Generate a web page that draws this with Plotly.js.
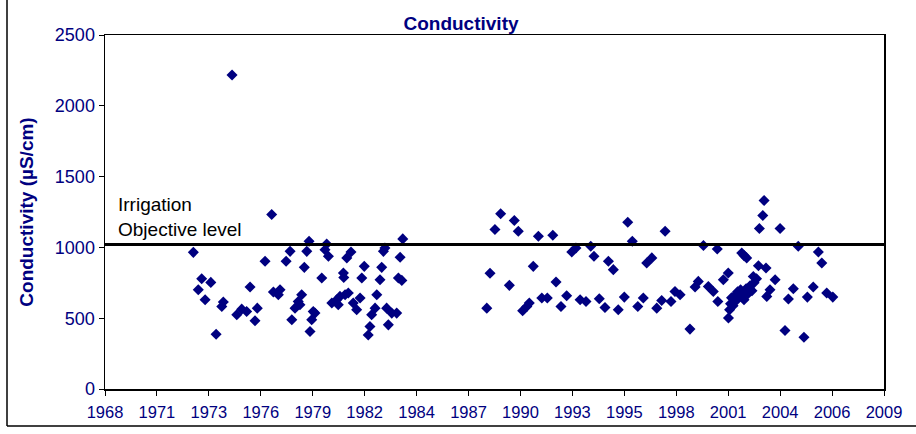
<!DOCTYPE html>
<html>
<head>
<meta charset="utf-8">
<script src="https://cdn.plot.ly/plotly-3.0.1.min.js"></script>
<style>html,body{margin:0;padding:0;background:#fff;}#chart{width:916px;height:434px;}</style>
</head>
<body>
<div id="chart"></div>
<script>
// Sampling dates (decimal years) and conductivity values (µS/cm)
const years = [
  1973.10,1973.36,1973.54,1973.72,1974.02,1974.30,1974.60,1974.68,1975.14,1975.39,
  1975.65,1975.91,1976.09,1976.35,1976.47,1976.88,1977.23,1977.32,1977.58,1977.67,
  1977.99,1978.20,1978.29,1978.46,1978.63,1978.72,1978.81,1978.95,1979.08,1979.20,
  1979.34,1979.25,1979.42,1979.51,1979.87,1980.04,1980.13,1980.22,1980.40,1980.66,
  1980.74,1980.83,1981.10,1981.27,1981.01,1981.03,1981.19,1981.41,1981.53,1981.71,
  1981.89,1981.98,1982.11,1982.32,1982.41,1982.50,1982.68,1982.77,1982.94,1983.03,
  1983.12,1983.20,1983.29,1983.56,1983.82,1983.38,1983.91,1984.09,1984.00,1984.14,
  1988.57,1988.74,1989.00,1989.30,1989.76,1990.02,1990.23,1990.46,1990.68,1990.81,
  1991.02,1991.29,1991.47,1991.76,1992.05,1992.22,1992.48,1992.78,1993.05,1993.27,
  1993.49,1993.80,1994.05,1994.22,1994.50,1994.80,1994.98,1995.24,1995.50,1995.82,
  1996.00,1996.24,1996.53,1996.82,1997.00,1997.27,1997.53,1997.79,1997.97,1998.28,
  1998.49,1998.76,1999.28,1999.55,1999.72,1999.99,2000.25,2000.51,2000.75,2000.72,
  2001.04,2001.30,2001.31,2001.37,2001.42,2001.47,2001.55,2001.63,2001.71,2001.79,
  2001.87,2001.95,2002.03,2002.13,2002.24,2002.34,2002.45,2002.55,2002.66,2002.62,
  2002.79,2002.01,2002.27,2002.13,2002.89,2003.29,2002.94,2003.12,2003.19,2004.03,
  2003.33,2003.50,2003.77,2004.29,2004.47,2004.73,2004.99,2005.29,2005.47,2005.78,
  2006.05,2006.23,2006.49,2006.81
];
const conductivity = [
  965,701,779,630,753,387,583,614,2217,524,
  564,547,720,482,571,902,1232,685,666,701,
  902,972,489,571,618,595,666,859,972,1043,
  489,406,547,536,784,984,1024,937,607,630,
  595,654,666,678,819,788,926,968,607,560,
  642,784,866,382,441,524,571,666,772,859,
  972,996,571,536,536,453,784,767,930,1060,
  571,817,1126,1237,732,1190,1114,552,583,607,
  866,1079,642,642,1086,756,583,659,968,996,
  630,618,1008,937,637,576,902,843,560,649,
  1178,1043,583,642,890,926,571,625,1114,618,
  689,666,423,720,760,1013,724,689,618,989,
  772,819,501,560,602,645,588,659,623,687,
  652,701,666,630,708,673,729,694,751,795,
  779,961,926,942,871,855,1133,1225,1331,1133,
  654,701,772,413,635,708,1008,366,649,720,
  968,890,678,649
];
const objectiveLevel = 1020;
const objectiveLabel = "Irrigation<br>Objective level";
// Excel date-axis ticks: every 1000 days from serial 25000
const tickSerials = [25000,26000,27000,28000,29000,30000,31000,32000,33000,34000,35000,36000,37000,38000,39000,40000];
const tickLabels = ["1968","1971","1973","1976","1979","1982","1984","1987","1990","1993","1995","1998","2001","2004","2006","2009"];
const yTicks = [0,500,1000,1500,2000,2500];

function serialToYear(s){
  const ms = Date.UTC(1899,11,30) + s*86400000;
  const d = new Date(ms);
  const y = d.getUTCFullYear();
  const start = Date.UTC(y,0,1), end = Date.UTC(y+1,0,1);
  return y + (ms-start)/(end-start);
}
const tickVals = tickSerials.map(serialToYear);

const W=916,H=434, ml=105, mr=32, mt=35, mb=45;
const pw=W-ml-mr, ph=H-mt-mb;
const px=(x)=>(x-ml)/pw, py=(y)=>(H-mb-y)/ph;

const navy = '#000080';
const trace = {
  x: years, y: conductivity, type:'scatter', mode:'markers',
  marker:{symbol:'diamond', size:8.5, color:navy, line:{width:0}},
  hoverinfo:'x+y', showlegend:false, cliponaxis:false
};

const layout = {
  width:W, height:H,
  margin:{l:ml,r:mr,t:mt,b:mb,pad:0},
  paper_bgcolor:'#fff', plot_bgcolor:'#fff',
  font:{family:'Liberation Sans, Arial, sans-serif', color:navy},
  title:{text:'<b>Conductivity</b>', font:{size:19,color:navy,family:'Liberation Sans, Arial, sans-serif'},
    x:461/W, xanchor:'center', y:1-23/H, yanchor:'middle', xref:'container', yref:'container'},
  xaxis:{range:[tickVals[0],tickVals[tickVals.length-1]], tickmode:'array', tickvals:tickVals, ticktext:tickLabels,
    ticks:'outside', ticklen:5, tickwidth:1, tickcolor:'#000', showgrid:false, zeroline:false,
    showline:true, linecolor:'#000', linewidth:1.5, mirror:true, ticklabelstandoff:3,
    tickfont:{size:16.5, color:navy, family:'Liberation Sans Narrow, Arial Narrow, Liberation Sans, sans-serif'}},
  yaxis:{range:[0,2500], tickmode:'array', tickvals:yTicks,
    ticks:'outside', ticklen:5, tickwidth:1, tickcolor:'#000', showgrid:false, zeroline:false,
    showline:true, linecolor:'#000', linewidth:1.5, mirror:true,
    tickfont:{size:18, color:navy},
    title:{text:'<b>Conductivity (µS/cm)</b>', font:{size:19,color:navy}, standoff:16}},
  shapes:[
    {type:'line', xref:'paper', yref:'y', x0:0, x1:1, y0:objectiveLevel, y1:objectiveLevel, line:{color:'#000', width:3}},
    {type:'line', xref:'paper', yref:'paper', x0:px(7), x1:px(W+5), y0:py(H-8), y1:py(H-8), line:{color:'#000', width:1.5}},
    {type:'line', xref:'paper', yref:'paper', x0:px(7), x1:px(7), y0:py(H-8), y1:py(-5), line:{color:'#000', width:1.5}}
  ],
  annotations:[
    {text:objectiveLabel, xref:'paper', yref:'y', x:px(116), y:objectiveLevel, xanchor:'left', yanchor:'bottom',
     align:'left', showarrow:false, yshift:3, font:{size:19, color:'#000'}}
  ]
};
Plotly.newPlot('chart',[trace],layout,{displayModeBar:false, staticPlot:true});
</script>
</body>
</html>
